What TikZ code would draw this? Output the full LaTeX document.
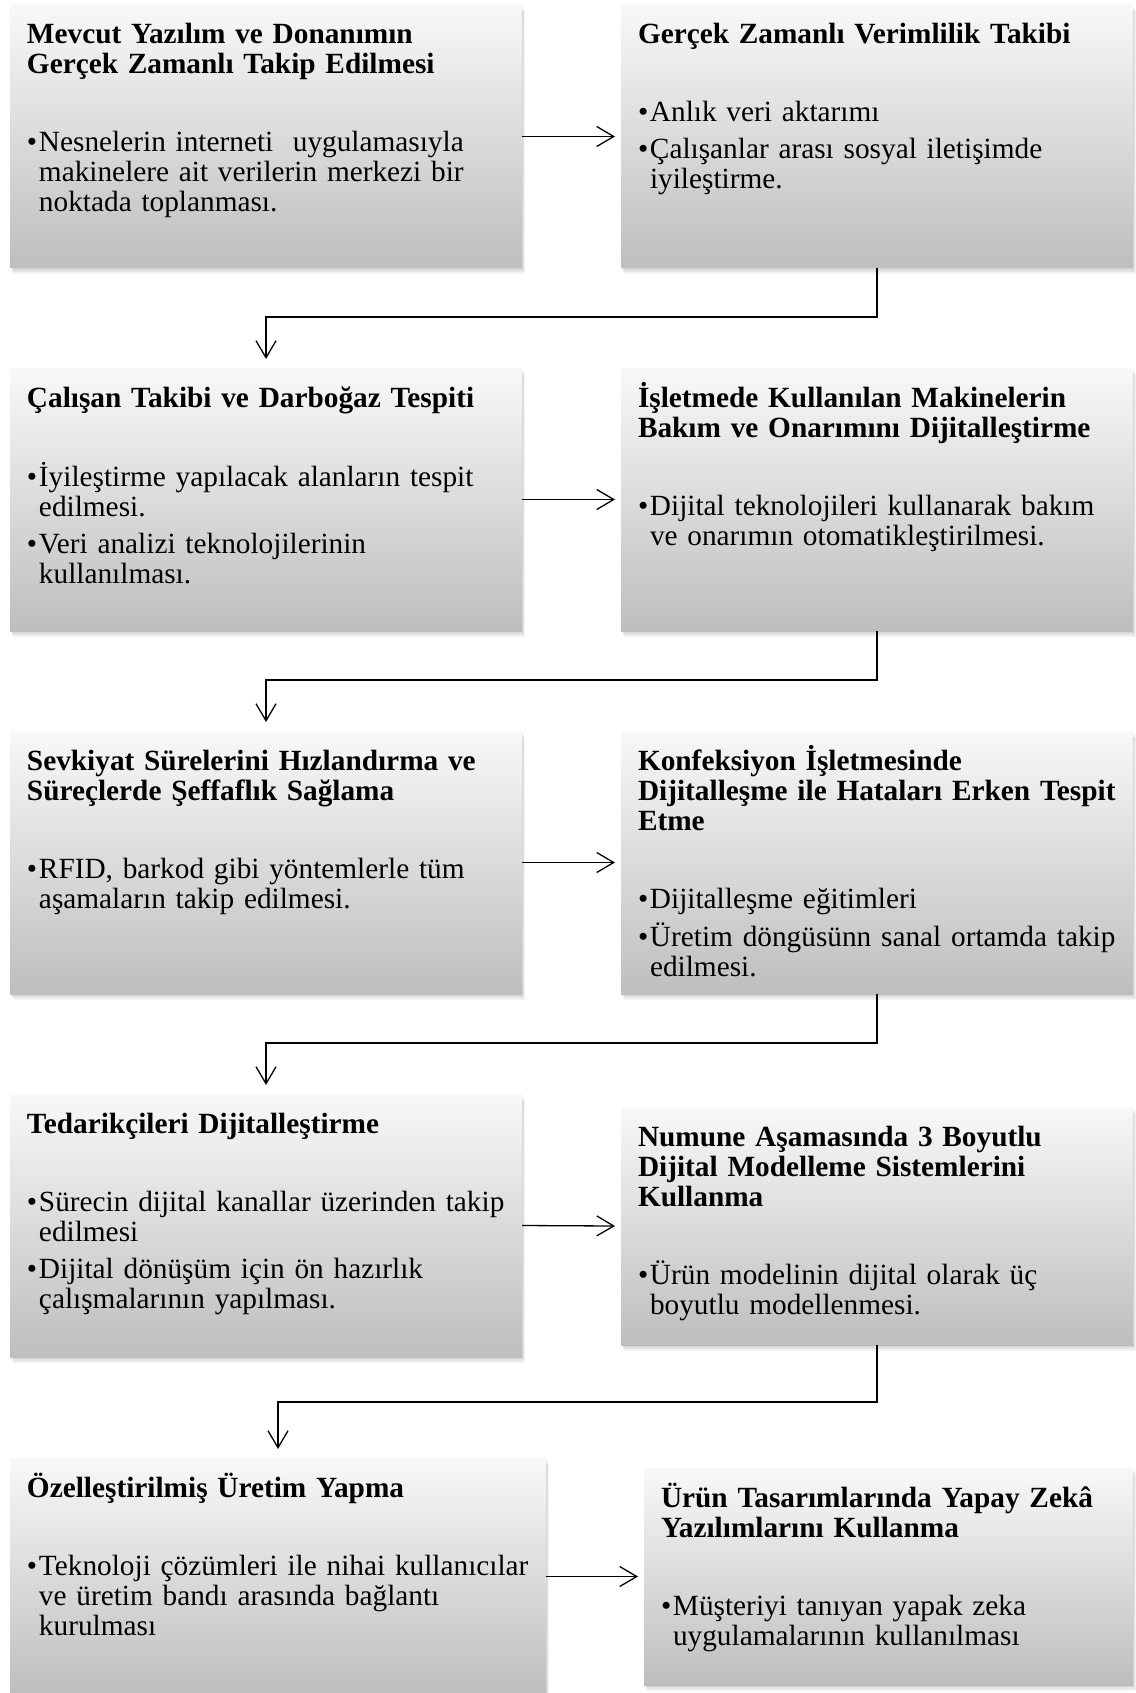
\documentclass[tikz,border=0pt]{standalone}
\usepackage{fontspec}
\setmainfont{Liberation Serif}
\usetikzlibrary{arrows.meta,calc,shadows}
\definecolor{cardtop}{RGB}{248,248,248}
\definecolor{cardbot}{RGB}{190,190,190}
\newcommand\Ttl[1]{\setlength{\parskip}{0pt}\setlength{\parindent}{0pt}\noindent\textbf{#1}\par\vspace{48pt}}
\newcommand\Bul[1]{\hangindent=12pt\hangafter=1\noindent\makebox[12pt][l]{•}#1\par}
\newcommand\Gap{\vspace{7pt}}
\tikzset{
  card/.style={rectangle, draw=none, anchor=north west, inner sep=0pt, outer sep=0pt,
    top color=cardtop, bottom color=cardbot,
    general shadow={fill=black, opacity=0.06, shadow xshift=1pt, shadow yshift=-2pt},
    general shadow={fill=black, opacity=0.06, shadow xshift=2pt, shadow yshift=-4pt},
    general shadow={fill=black, opacity=0.05, shadow xshift=3pt, shadow yshift=-6pt}},
  txt/.style={anchor=base west, inner sep=0pt, outer sep=0pt, text width=#1, align=left,
    font=\fontsize{29.3}{30}\selectfont},
  conn/.style={line width=1.3pt, -{Straight Barb[length=17pt,width=20pt,line width=1.3pt]}}
}
\begin{document}
\begin{tikzpicture}[x=1pt,y=1pt]
\fill[white] (0,0) rectangle (1135,-1693);
\useasboundingbox (0,0) rectangle (1135,-1693);

% boxes
\node[card, minimum width=512pt, minimum height=263pt] (b1) at (10,-5) {};
\node[card, minimum width=512pt, minimum height=263pt] (b2) at (621,-5) {};
\node[card, minimum width=512pt, minimum height=263pt] (b3) at (10,-368) {};
\node[card, minimum width=512pt, minimum height=263pt] (b4) at (621,-368) {};
\node[card, minimum width=512pt, minimum height=263pt] (b5) at (10,-731) {};
\node[card, minimum width=512pt, minimum height=263pt] (b6) at (621,-731) {};
\node[card, minimum width=512pt, minimum height=263pt] (b7) at (10,-1094) {};
\node[card, minimum width=512pt, minimum height=238pt] (b8) at (621,-1107) {};
\node[card, minimum width=536pt, minimum height=237pt] (b9) at (10,-1458) {};
\node[card, minimum width=489pt, minimum height=217pt] (b10) at (644,-1468) {};

% texts
\node[txt=500pt] (t1) at ($(b1.north west)+(17,-39)$) {%
\Ttl{Mevcut Yazılım ve Donanımın\newline Gerçek Zamanlı Takip Edilmesi}%
\Bul{Nesnelerin interneti\ \ uygulamasıyla\newline makinelere ait verilerin merkezi bir\newline noktada toplanması.}};

\node[txt=500pt] (t2) at ($(b2.north west)+(17,-39)$) {%
\Ttl{Gerçek Zamanlı Verimlilik Takibi}%
\Bul{Anlık veri aktarımı}\Gap
\Bul{Çalışanlar arası sosyal iletişimde\newline iyileştirme.}};

\node[txt=500pt] (t3) at ($(b3.north west)+(17,-39)$) {%
\Ttl{Çalışan Takibi ve Darboğaz Tespiti}%
\Bul{İyileştirme yapılacak alanların tespit\newline edilmesi.}\Gap
\Bul{Veri analizi teknolojilerinin\newline kullanılması.}};

\node[txt=500pt] (t4) at ($(b4.north west)+(17,-39)$) {%
\Ttl{İşletmede Kullanılan Makinelerin\newline Bakım ve Onarımını Dijitalleştirme}%
\Bul{Dijital teknolojileri kullanarak bakım\newline ve onarımın otomatikleştirilmesi.}};

\node[txt=500pt] (t5) at ($(b5.north west)+(17,-39)$) {%
\Ttl{Sevkiyat Sürelerini Hızlandırma ve\newline Süreçlerde Şeffaflık Sağlama}%
\Bul{RFID, barkod gibi yöntemlerle tüm\newline aşamaların takip edilmesi.}};

\node[txt=500pt] (t6) at ($(b6.north west)+(17,-39)$) {%
\Ttl{Konfeksiyon İşletmesinde\newline Dijitalleşme ile Hataları Erken Tespit\newline Etme}%
\Bul{Dijitalleşme eğitimleri}\Gap
\Bul{Üretim döngüsünn sanal ortamda takip\newline edilmesi.}};

\node[txt=500pt] (t7) at ($(b7.north west)+(17,-39)$) {%
\Ttl{Tedarikçileri Dijitalleştirme}%
\Bul{Sürecin dijital kanallar üzerinden takip\newline edilmesi}\Gap
\Bul{Dijital dönüşüm için ön hazırlık\newline çalışmalarının yapılması.}};

\node[txt=500pt] (t8) at ($(b8.north west)+(17,-39)$) {%
\Ttl{Numune Aşamasında 3 Boyutlu\newline Dijital Modelleme Sistemlerini\newline Kullanma}%
\Bul{Ürün modelinin dijital olarak üç\newline boyutlu modellenmesi.}};

\node[txt=520pt] (t9) at ($(b9.north west)+(17,-39)$) {%
\Ttl{Özelleştirilmiş Üretim Yapma}%
\Bul{Teknoloji çözümleri ile nihai kullanıcılar\newline ve üretim bandı arasında bağlantı\newline kurulması}};

\node[txt=470pt] (t10) at ($(b10.north west)+(17,-39)$) {%
\Ttl{Ürün Tasarımlarında Yapay Zekâ\newline Yazılımlarını Kullanma}%
\Bul{Müşteriyi tanıyan yapak zeka\newline uygulamalarının kullanılması}};

% horizontal arrows
\draw[conn] (b1.east) -- ([xshift=-6pt]b2.west);
\draw[conn] (b3.east) -- ([xshift=-6pt]b4.west);
\draw[conn] (b5.east) -- ([xshift=-6pt]b6.west);
\draw[conn] (b7.east) -- ([xshift=-6pt]b8.west);
\draw[conn] (b9.east) -- ([xshift=-6pt]b10.west);

% row-to-row connectors
\draw[conn] (b2.south) -- ++(0,-49) -| ([yshift=9pt]b3.north);
\draw[conn] (b4.south) -- ++(0,-49) -| ([yshift=9pt]b5.north);
\draw[conn] (b6.south) -- ++(0,-49) -| ([yshift=9pt]b7.north);
\draw[conn] (b8.south) -- ++(0,-57) -| ([yshift=9pt]b9.north);
\end{tikzpicture}
\end{document}
